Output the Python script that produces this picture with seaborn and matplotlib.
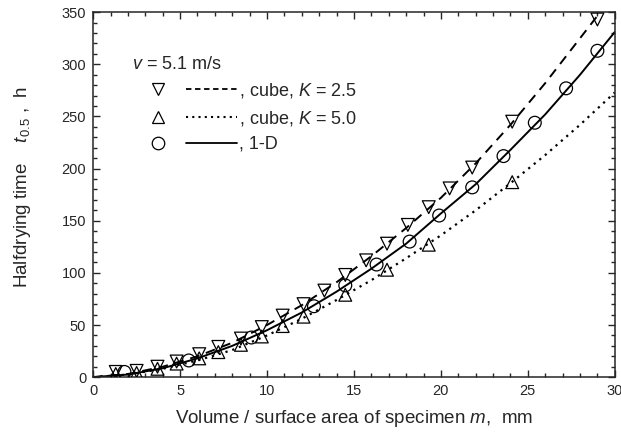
import numpy as np
import pandas as pd
import matplotlib
matplotlib.use("Agg")
import matplotlib.pyplot as plt
import seaborn as sns
from matplotlib.lines import Line2D
from matplotlib.legend_handler import HandlerTuple
from matplotlib.ticker import MultipleLocator

# measured points (m in mm, halfdrying time in h)
m_k25 = [1.3, 2.5, 3.7, 4.8, 6.1, 7.2, 8.5, 9.7, 10.9, 12.1, 13.3, 14.5, 15.7, 16.9, 18.1, 19.3, 20.5, 21.8, 24.1, 29.0]
t_k25 = [5, 6, 10, 15, 22, 29, 37, 48, 59, 70, 83, 98, 112, 128, 146, 163, 181, 201, 245, 343]

m_k50 = [1.3, 2.5, 3.7, 4.8, 6.1, 7.2, 8.5, 9.7, 10.9, 12.1, 14.5, 16.9, 19.3, 24.1]
t_k50 = [3, 4, 8, 13, 18, 24, 31, 39, 49, 58, 79, 103, 127, 187]

m_1d = [1.8, 5.5, 9.1, 12.7, 14.5, 16.3, 18.2, 19.9, 21.8, 23.6, 25.4, 27.2, 29.0]
t_1d = [5, 16, 38, 68, 88, 108, 130, 155, 182, 212, 244, 277, 313]

# model curves
curve_m = [0, 2, 4, 6, 8, 10, 12, 14, 16, 18, 20, 22, 24, 26, 28, 30]
curve_k25 = [0, 3, 10, 20, 33, 50, 69, 91, 116, 143, 172, 205, 242, 282, 325, 368]
curve_k50 = [0, 2.5, 8, 16, 26, 40, 56, 74, 93, 114, 136, 160, 186, 213, 242, 273]
curve_1d = [0, 2.5, 8.5, 18, 30, 45, 62, 82, 104, 128, 157, 185, 218, 252, 290, 331]

sns.set_style("ticks")
plt.rcParams['font.family'] = ['Liberation Sans', 'DejaVu Sans']
plt.rcParams['mathtext.fontset'] = 'custom'
plt.rcParams['mathtext.rm'] = 'Liberation Sans'
plt.rcParams['mathtext.it'] = 'Liberation Sans:italic'

curves = pd.DataFrame({
    'm': curve_m * 3,
    't': curve_k25 + curve_k50 + curve_1d,
    'series': ['k25'] * len(curve_m) + ['k50'] * len(curve_m) + ['1d'] * len(curve_m),
})

fig = plt.figure(figsize=(6.21, 4.36), dpi=100)
ax = fig.add_axes([0.150, 0.135, 0.840, 0.837])

styles = {'k25': (0, (5, 3.5)), 'k50': (0, (1, 2.2)), '1d': '-'}
for key, ls in styles.items():
    sub = curves[curves['series'] == key]
    sns.lineplot(data=sub, x='m', y='t', ax=ax, color='black',
                 lw=1.6 if key == 'k50' else 1.4,
                 linestyle=ls, legend=False, sort=False)

mk = dict(s=85, facecolor='none', edgecolor='black', linewidth=0.9, zorder=3, legend=False)
sns.scatterplot(x=m_k25, y=t_k25, marker='v', ax=ax, **mk)
sns.scatterplot(x=m_k50, y=t_k50, marker='^', ax=ax, **mk)
sns.scatterplot(x=m_1d, y=t_1d, marker='o', ax=ax, **mk)

ax.set_xlim(0, 30)
ax.set_ylim(0, 350)
ax.xaxis.set_major_locator(MultipleLocator(5))
ax.xaxis.set_minor_locator(MultipleLocator(1))
ax.yaxis.set_major_locator(MultipleLocator(50))
ax.yaxis.set_minor_locator(MultipleLocator(10))
ax.tick_params(which='both', direction='in', top=True, right=True, width=1.0,
               labelsize=10.5, pad=5)
ax.tick_params(which='major', length=5)
ax.tick_params(which='minor', length=3)
for sp in ax.spines.values():
    sp.set_linewidth(1.1)

ax.set_xlabel(r"Volume / surface area of specimen $m$,  mm", fontsize=13.5, labelpad=7)
ax.set_ylabel(r"Halfdrying time    $t_{0.5}$ ,  h", fontsize=13.5)
ax.yaxis.set_label_coords(-0.115, 0.52)

# legend: marker, line, text
def mline(marker):
    return Line2D([], [], marker=marker, ls='none', mfc='none', mec='black', ms=9, mew=0.9)

def lline(ls, lw=1.3):
    return Line2D([], [], color='black', lw=lw, ls=ls)

handles = [(mline('v'), lline((0, (3, 2)))),
           (mline('^'), lline((0, (1, 2)), 1.5)),
           (mline('o'), lline('-'))]
labels = [r", cube, $K$ = 2.5", r", cube, $K$ = 5.0", ", 1-D"]
leg = ax.legend(handles, labels, handler_map={tuple: HandlerTuple(ndivide=None, pad=0.1)},
                title=r"$v$ = 5.1 m/s", alignment='left', frameon=False,
                loc='upper left', bbox_to_anchor=(0.075, 0.88),
                handlelength=5.8, handletextpad=0.1, labelspacing=0.46,
                fontsize=13, title_fontsize=13, borderaxespad=0, borderpad=0)

fig.savefig("out.png", dpi=100)
